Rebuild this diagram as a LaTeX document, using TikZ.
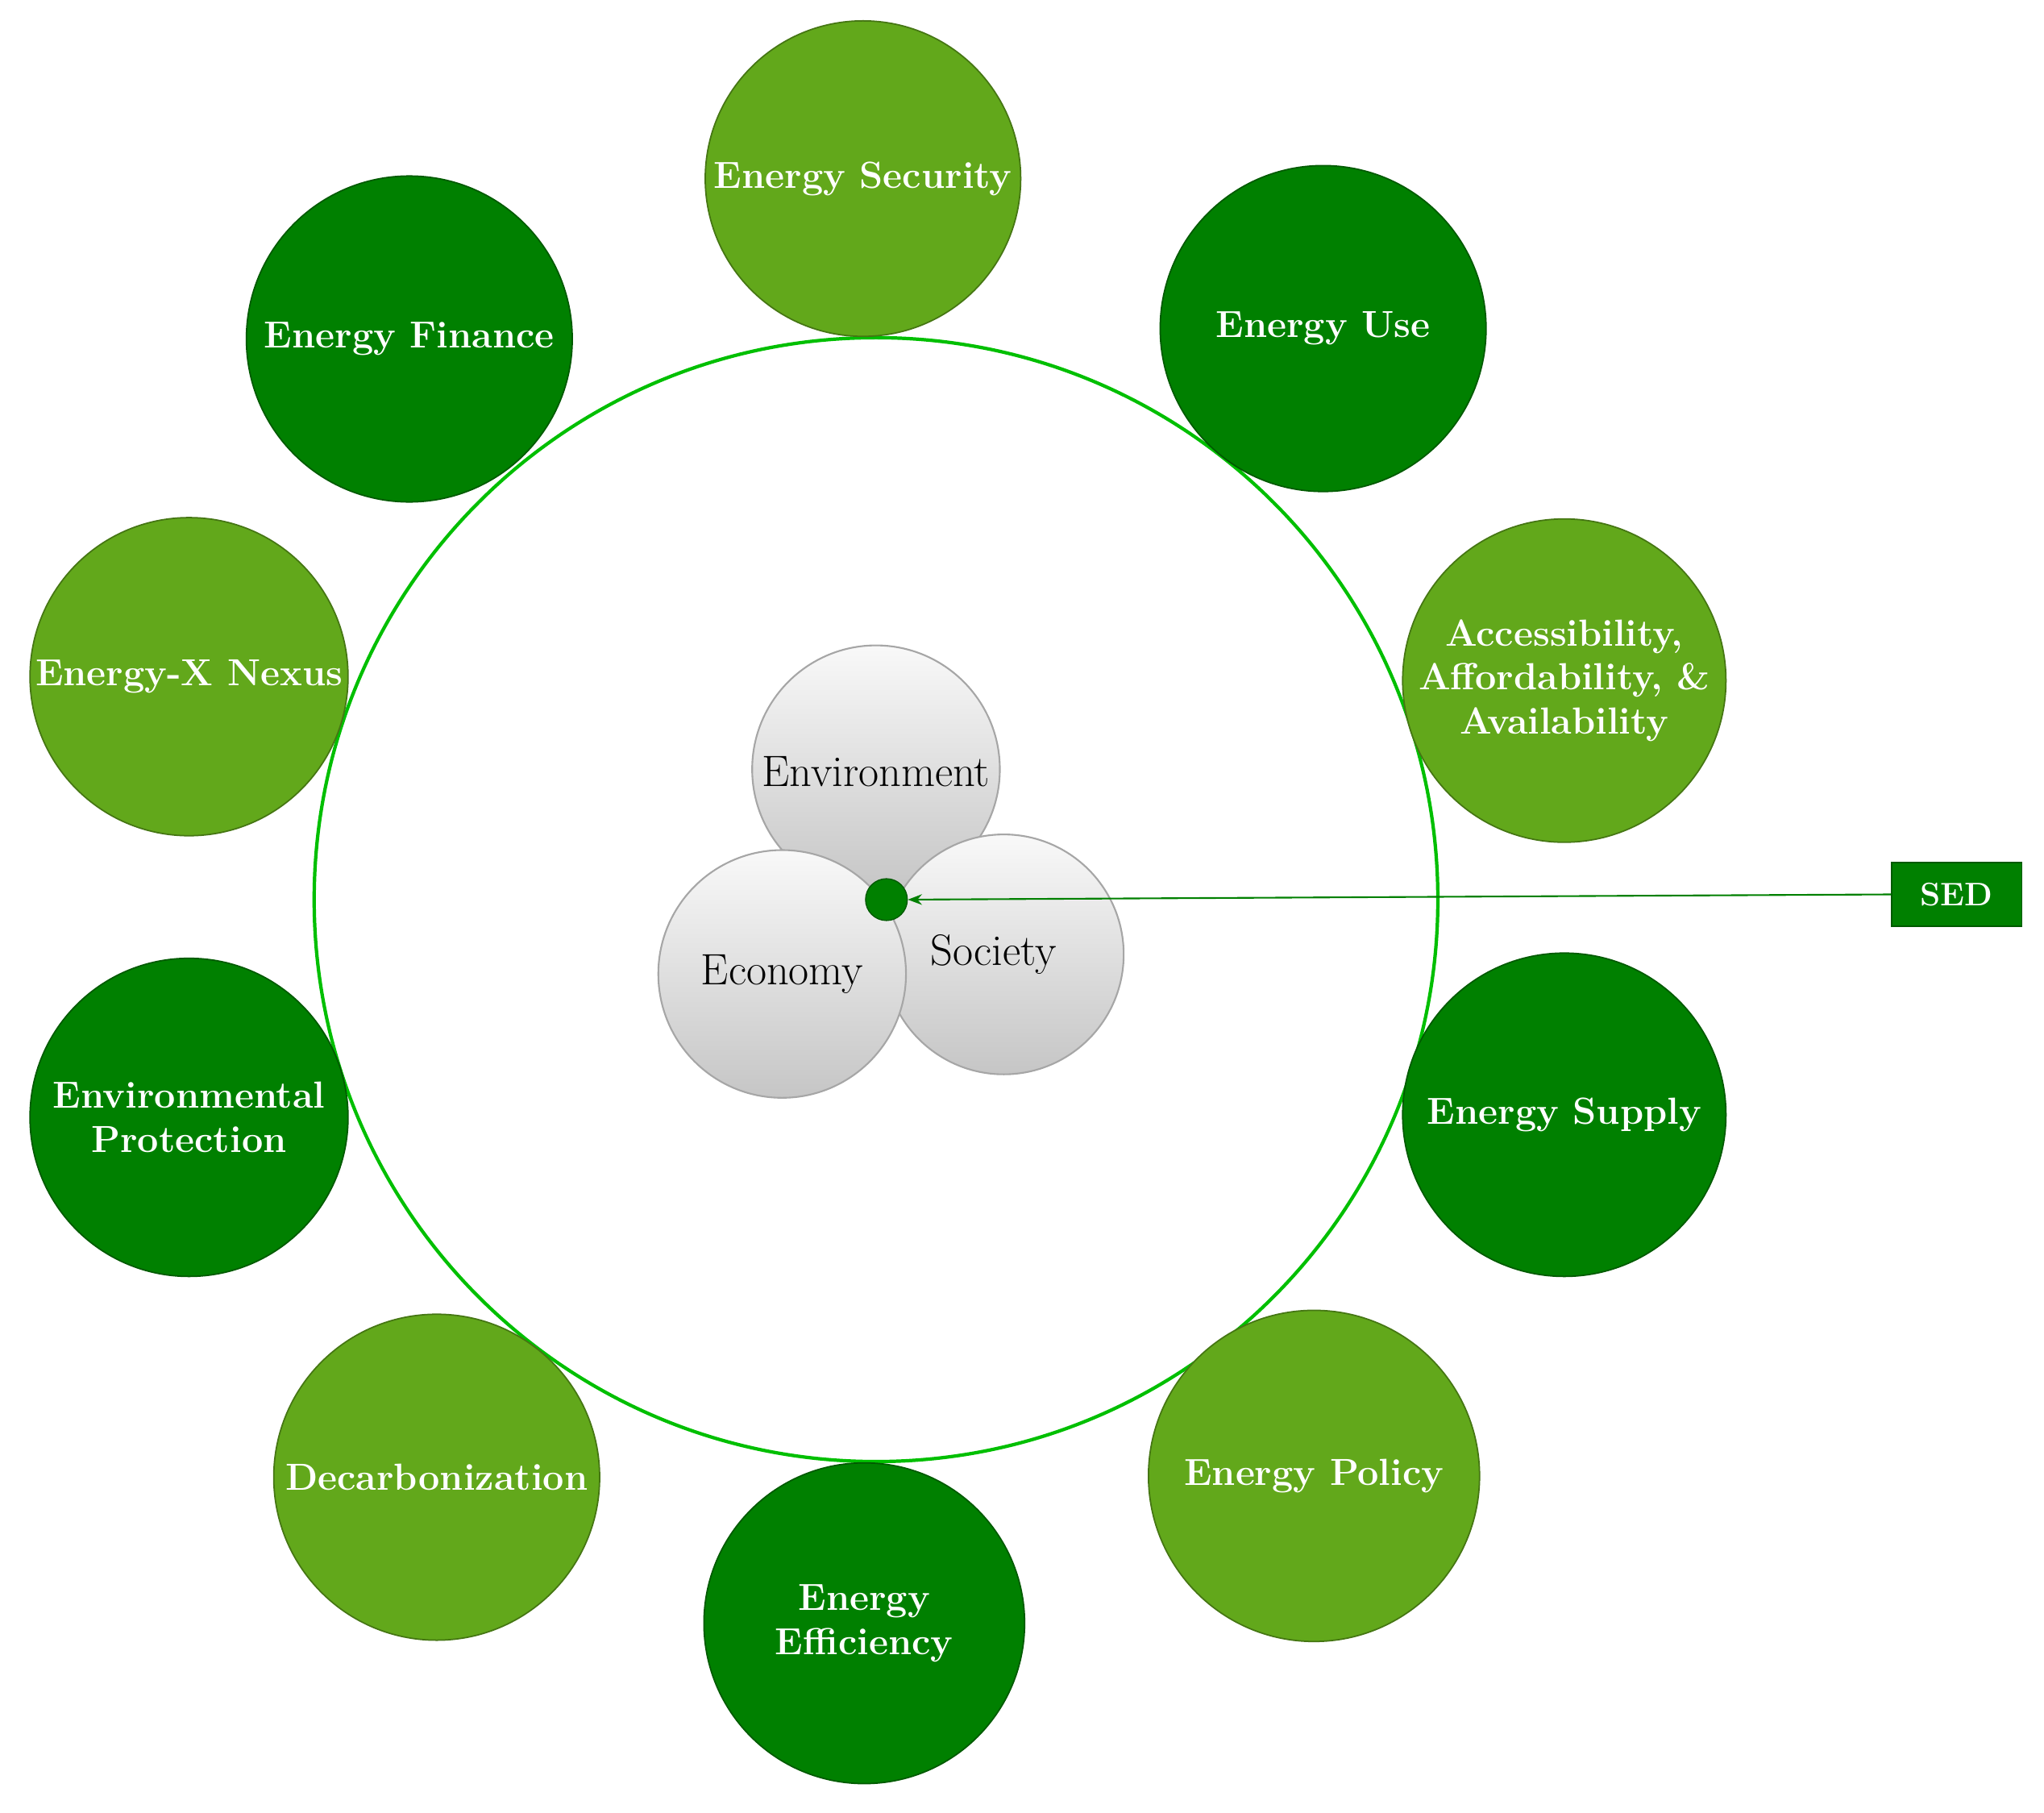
\documentclass[tikz,border=0pt]{standalone}
\usetikzlibrary{arrows.meta}
\begin{document}
\begin{tikzpicture}[x=0.01617cm,y=-0.01617cm,
 lg/.style={circle,fill=lightg,draw=lightg!70!black,line width=0.5pt,text=white,font=\bfseries\fontsize{13.3}{15.5}\selectfont,align=center,inner sep=0pt,minimum size={#1*0.01617cm}},
 dg/.style={circle,fill=darkg,draw=darkg!70!black,line width=0.5pt,text=white,font=\bfseries\fontsize{13.3}{15.5}\selectfont,align=center,inner sep=0pt,minimum size={#1*0.01617cm}},
 gy/.style={circle,top color=gray!5,bottom color=gray!45,draw=gray!70,line width=0.6pt,inner sep=0pt,minimum size={#1*0.01617cm}},
 gt/.style={font=\fontsize{15.5}{18}\selectfont}]
\definecolor{lightg}{HTML}{62A81B}
\definecolor{darkg}{HTML}{008000}
\useasboundingbox (0,0) rectangle (1568,1390);
\node[circle,draw=green!75!black,line width=1.2pt,minimum size={862*0.01617cm}] (ring) at (672,690) {};
\node[lg=242] (sec) at (662,137) {Energy Security};
\node[dg=250] (use) at (1015,252) {Energy Use};
\node[lg=248] (acc) at (1200,522) {Accessibility,\\Affordability, \&\\Availability};
\node[dg=248] (sup) at (1200,855) {Energy Supply};
\node[lg=254] (pol) at (1008,1132) {Energy Policy};
\node[dg=246] (eff) at (663,1245) {Energy\\Efficiency};
\node[lg=250] (dec) at (335,1133) {Decarbonization};
\node[dg=244] (envp) at (145,857) {Environmental\\Protection};
\node[lg=244] (nex) at (145,519) {Energy-X Nexus};
\node[dg=250] (fin) at (314,260) {Energy Finance};
\node[gy=190] (env) at (672,590) {};
\node[gy=184] (soc) at (770,732) {};
\node[gy=190] (eco) at (600,747) {};
\node[gt] (tenv) at (672,592) {Environment};
\node[gt] (tsoc) at (762,732) {Society};
\node[gt] (teco) at (600,747) {Economy};
\node[circle,fill=darkg,draw=darkg!70!black,minimum size={32*0.01617cm},inner sep=0pt] (dot) at (680,690) {};
\node[fill=darkg,draw=darkg!70!black,minimum width={100*0.01617cm},minimum height={49*0.01617cm},text=white,font=\bfseries\fontsize{11.5}{13}\selectfont] (sed) at (1501,686) {SED};
\draw[darkg,line width=0.6pt,-{Stealth[length=5pt]}] (sed.west) -- (dot.east);
\end{tikzpicture}
\end{document}
